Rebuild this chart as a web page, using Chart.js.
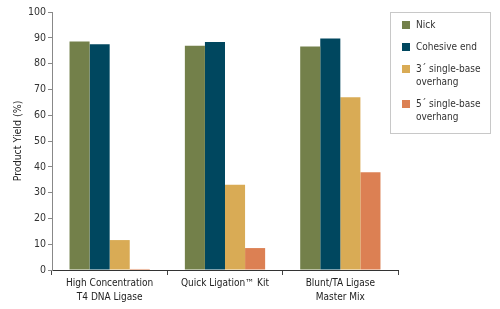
<!DOCTYPE html>
<html>
<head>
<meta charset="utf-8">
<script src="https://cdn.jsdelivr.net/npm/chart.js@4.4.1/dist/chart.umd.min.js"></script>
<style>
  html, body { margin: 0; padding: 0; background: #fff; }
  #wrap { width: 500px; height: 309px; position: relative; }
</style>
</head>
<body>
<div id="wrap"><canvas id="yieldChart"></canvas></div>
<script>
// values
var categories = [["High Concentration", "T4 DNA Ligase"], "Quick Ligation\u2122 Kit", ["Blunt/TA Ligase", "Master Mix"]];
var seriesNames = ["Nick", "Cohesive end", "3\u00b4 single-base overhang", "5\u00b4 single-base overhang"];
var nick = [88.6, 86.9, 86.6];
var cohesiveEnd = [87.5, 88.4, 89.7];
var threePrime = [11.6, 33.0, 67.0];
var fivePrime = [0.4, 8.5, 37.9];
var yTicks = [0, 10, 20, 30, 40, 50, 60, 70, 80, 90, 100];

var colors = ["#73804a", "#00475f", "#d9ab55", "#dc8053"];
var FONT = "'Liberation Sans Narrow', 'DejaVu Sans Condensed', 'Arial Narrow', sans-serif";

Chart.defaults.font.family = FONT;
Chart.defaults.font.size = 10.5;
Chart.defaults.color = "#333";

// boxed legend, drawn at fixed spot top right
var boxLegend = {
  id: "boxLegend",
  afterDraw: function (chart) {
    var ctx = chart.ctx;
    ctx.save();
    ctx.strokeStyle = "#c8c8c8";
    ctx.lineWidth = 1;
    ctx.strokeRect(390.5, 12.5, 100, 121);
    ctx.font = "10px " + FONT;
    ctx.textBaseline = "middle";
    var y = 25;
    chart.data.datasets.forEach(function (ds) {
      var lines = ds.label.replace(" overhang", "\noverhang").split("\n");
      ctx.fillStyle = ds.backgroundColor;
      ctx.fillRect(402, y - 4, 8, 8);
      ctx.fillStyle = "#333";
      lines.forEach(function (t, i) {
        ctx.fillText(t, 416, y + i * 13);
      });
      y += (lines.length - 1) * 13 + 22;
    });
    ctx.restore();
  }
};

var datasets = [nick, cohesiveEnd, threePrime, fivePrime].map(function (vals, i) {
  return {
    label: seriesNames[i],
    data: vals,
    backgroundColor: colors[i],
    borderWidth: 0,
    barPercentage: 1.0,
    categoryPercentage: 0.696
  };
});

var config = {
  type: "bar",
  data: { labels: categories, datasets: datasets },
  options: {
    responsive: true,
    maintainAspectRatio: false,
    animation: false,
    layout: { padding: { top: 12, right: 102, left: 0, bottom: 0 } },
    plugins: {
      legend: { display: false },
      tooltip: { enabled: false }
    },
    scales: {
      x: {
        afterFit: function (s) { s.height = 39; },
        grid: {
          offset: true,
          drawOnChartArea: false,
          tickLength: 5,
          color: function (c) { return c.index >= 3 ? "rgba(0,0,0,0)" : "#444"; }
        },
        border: { color: "#333", width: 1 },
        ticks: { padding: 2, font: { size: 10, lineHeight: 1.35 }, color: "#222" }
      },
      y: {
        min: 0,
        max: 100,
        afterFit: function (s) { s.width = 52; },
        afterBuildTicks: function (s) {
          s.ticks = yTicks.map(function (v) { return { value: v }; });
        },
        grid: {
          drawOnChartArea: false,
          tickLength: 4,
          color: "#888"
        },
        border: { color: "#888", width: 1 },
        ticks: { padding: 2, font: { size: 10.5 }, color: "#333" },
        title: {
          display: true,
          text: "Product Yield (%)",
          font: { size: 10.5 },
          color: "#222",
          padding: { top: 12, bottom: 0 }
        }
      }
    }
  },
  plugins: [boxLegend]
};

new Chart(document.getElementById("yieldChart"), config);
</script>
</body>
</html>
